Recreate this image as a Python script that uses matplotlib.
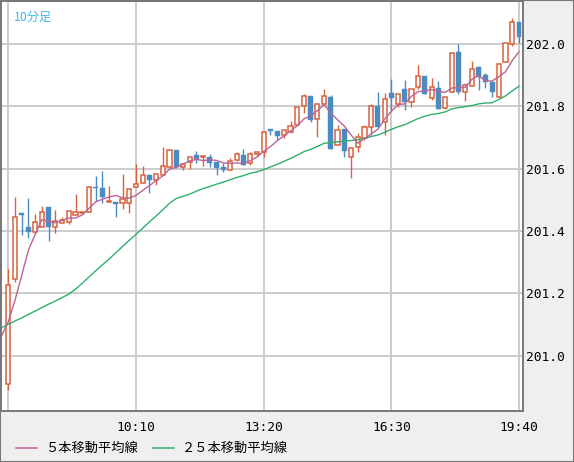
import matplotlib
matplotlib.use('Agg')
import matplotlib.pyplot as plt
from matplotlib.lines import Line2D
from matplotlib.patches import Rectangle
import numpy as np
import pandas as pd

# 10分足 OHLC (77本)
opens = [200.908, 201.245, 201.458, 201.413, 201.397, 201.413, 201.477, 201.413, 201.426, 201.428,
         201.452, 201.456, 201.462, 201.540, 201.539, 201.493, 201.494, 201.489, 201.489, 201.542,
         201.553, 201.578, 201.563, 201.579, 201.606, 201.660, 201.606, 201.620, 201.644, 201.636,
         201.636, 201.622, 201.606, 201.596, 201.628, 201.644, 201.619, 201.647, 201.652, 201.726,
         201.721, 201.708, 201.718, 201.740, 201.801, 201.833, 201.758, 201.807, 201.831, 201.676,
         201.726, 201.636, 201.668, 201.697, 201.735, 201.801, 201.749, 201.842, 201.807, 201.855,
         201.813, 201.861, 201.897, 201.828, 201.858, 201.794, 201.845, 201.973, 201.845, 201.865,
         201.927, 201.900, 201.878, 201.831, 201.941, 201.999, 202.072]
highs = [201.277, 201.510, 201.458, 201.505, 201.454, 201.480, 201.477, 201.467, 201.444, 201.465,
         201.519, 201.464, 201.540, 201.576, 201.592, 201.545, 201.494, 201.583, 201.534, 201.615,
         201.609, 201.578, 201.583, 201.670, 201.660, 201.660, 201.614, 201.636, 201.657, 201.642,
         201.647, 201.622, 201.617, 201.633, 201.654, 201.663, 201.654, 201.654, 201.717, 201.726,
         201.721, 201.724, 201.753, 201.797, 201.839, 201.833, 201.807, 201.855, 201.836, 201.740,
         201.726, 201.668, 201.713, 201.740, 201.807, 201.847, 201.842, 201.888, 201.839, 201.884,
         201.855, 201.933, 201.897, 201.890, 201.881, 201.831, 201.970, 202.000, 201.874, 201.946,
         201.927, 201.906, 201.878, 201.940, 202.002, 202.084, 202.072]
lows = [200.889, 201.237, 201.387, 201.376, 201.392, 201.413, 201.368, 201.394, 201.424, 201.422,
        201.450, 201.455, 201.462, 201.497, 201.491, 201.493, 201.446, 201.470, 201.457, 201.542,
        201.553, 201.523, 201.547, 201.579, 201.601, 201.602, 201.596, 201.598, 201.617, 201.609,
        201.606, 201.579, 201.590, 201.596, 201.626, 201.612, 201.612, 201.640, 201.636, 201.708,
        201.692, 201.699, 201.713, 201.740, 201.778, 201.751, 201.702, 201.807, 201.663, 201.676,
        201.636, 201.569, 201.654, 201.692, 201.708, 201.735, 201.708, 201.788, 201.799, 201.788,
        201.799, 201.855, 201.839, 201.820, 201.790, 201.790, 201.845, 201.839, 201.817, 201.865,
        201.852, 201.858, 201.831, 201.831, 201.941, 201.995, 202.004]
closes = [201.225, 201.444, 201.452, 201.397, 201.428, 201.460, 201.413, 201.433, 201.435, 201.465,
          201.461, 201.462, 201.540, 201.538, 201.508, 201.497, 201.486, 201.502, 201.534, 201.551,
          201.578, 201.563, 201.583, 201.608, 201.660, 201.606, 201.614, 201.636, 201.631, 201.642,
          201.619, 201.603, 201.596, 201.626, 201.646, 201.612, 201.647, 201.654, 201.717, 201.722,
          201.706, 201.724, 201.737, 201.797, 201.833, 201.756, 201.807, 201.833, 201.663, 201.724,
          201.657, 201.665, 201.700, 201.733, 201.801, 201.735, 201.823, 201.828, 201.839, 201.815,
          201.855, 201.898, 201.839, 201.863, 201.790, 201.831, 201.970, 201.845, 201.868, 201.920,
          201.893, 201.879, 201.847, 201.935, 202.002, 202.070, 202.023]

# 表示範囲より前のデータを含む移動平均の先頭部分 (index -1 から、画像から読み取り)
ma5_head = [201.063, 201.109, 201.178, 201.258, 201.339]
ma25_head = [201.089, 201.100, 201.111, 201.121, 201.132, 201.143, 201.154, 201.165, 201.175,
             201.186, 201.197, 201.213, 201.232, 201.252, 201.272, 201.291, 201.310, 201.330,
             201.350, 201.370, 201.389, 201.409, 201.429, 201.448, 201.468]

tick_pos = [0, 19, 38, 57, 76]
tick_labels = ["", "10:10", "13:20", "16:30", "19:40"]
y_ticks = [201.0, 201.2, 201.4, 201.6, 201.8, 202.0]

UP = '#d9623e'
DOWN = '#4a8bc3'
MA5_COLOR = '#bb6495'
MA25_COLOR = '#2fb06c'
BG = '#efefef'

n = len(closes)
x = np.arange(n)
close_s = pd.Series(closes)
ma5 = close_s.rolling(5).mean().to_numpy()[4:]
ma25 = close_s.rolling(25).mean().to_numpy()[24:]
ma5_full = np.concatenate([ma5_head, ma5])
ma25_full = np.concatenate([ma25_head, ma25])
x_ma = np.arange(-1, n)

fig = plt.figure(figsize=(5.74, 4.62), dpi=100, facecolor=BG)
ax = fig.add_axes([1 / 574, 1 - 411 / 462, 522 / 574, 410 / 462])
ax.set_facecolor('white')

ax.set_xlim(-1.09, 76.6)
ax.set_ylim(200.822, 202.138)

for v in y_ticks:
    ax.axhline(v, color='#c8c8c8', lw=1.3, zorder=0)
for p in tick_pos:
    ax.axvline(p, color='#c8c8c8', lw=1.3, zorder=0)

o = np.array(opens)
c = np.array(closes)
up = c >= o
ax.vlines(x, lows, highs, color=np.where(up, UP, DOWN), lw=1.0, zorder=2)
body_h = np.maximum(np.abs(c - o), 0.003)
body_b = np.minimum(o, c)
ax.bar(x[up], body_h[up], bottom=body_b[up], width=0.62, facecolor='white',
       edgecolor=UP, linewidth=1.1, zorder=3)
ax.bar(x[~up], body_h[~up], bottom=body_b[~up], width=0.72, facecolor=DOWN,
       edgecolor=DOWN, linewidth=0.3, zorder=3)

ax.plot(x_ma, ma25_full, color=MA25_COLOR, lw=1.0, zorder=4)
ax.plot(x_ma, ma5_full, color=MA5_COLOR, lw=1.0, zorder=5)

ax.set_xticks(tick_pos)
ax.set_xticklabels(tick_labels, fontfamily='DejaVu Sans Mono', fontsize=9.3)
ax.set_yticks(y_ticks)
ax.set_yticklabels([f"{v:.1f}" for v in y_ticks], fontfamily='DejaVu Sans Mono', fontsize=9.3)
ax.yaxis.tick_right()
ax.tick_params(axis='both', length=0, colors='black')
ax.tick_params(axis='y', pad=2)
ax.tick_params(axis='x', pad=7)
for s in ax.spines.values():
    s.set_color('#777777')
    s.set_linewidth(1.4)

ax.text(0.025, 0.975, "10分足", transform=ax.transAxes, color='#3cb6ea', fontsize=8.8,
        fontfamily=['Noto Sans CJK JP', 'DejaVu Sans'], va='top', ha='left')

# 凡例
fig.add_artist(Line2D([16 / 574, 37 / 574], [1 - 448 / 462] * 2, color=MA5_COLOR, lw=1.1))
fig.text(45 / 574, 1 - 448 / 462, "５本移動平均線", fontsize=9.5, va='center',
         fontfamily=['Noto Sans CJK JP', 'DejaVu Sans'])
fig.add_artist(Line2D([153 / 574, 174 / 574], [1 - 448 / 462] * 2, color=MA25_COLOR, lw=1.1))
fig.text(182 / 574, 1 - 448 / 462, "２５本移動平均線", fontsize=9.5, va='center',
         fontfamily=['Noto Sans CJK JP', 'DejaVu Sans'])

fig.add_artist(Rectangle((0, 0), 1, 1, transform=fig.transFigure, fill=False,
                         edgecolor='#777777', lw=1.5))

fig.savefig('out.png', dpi=100, facecolor=BG)
